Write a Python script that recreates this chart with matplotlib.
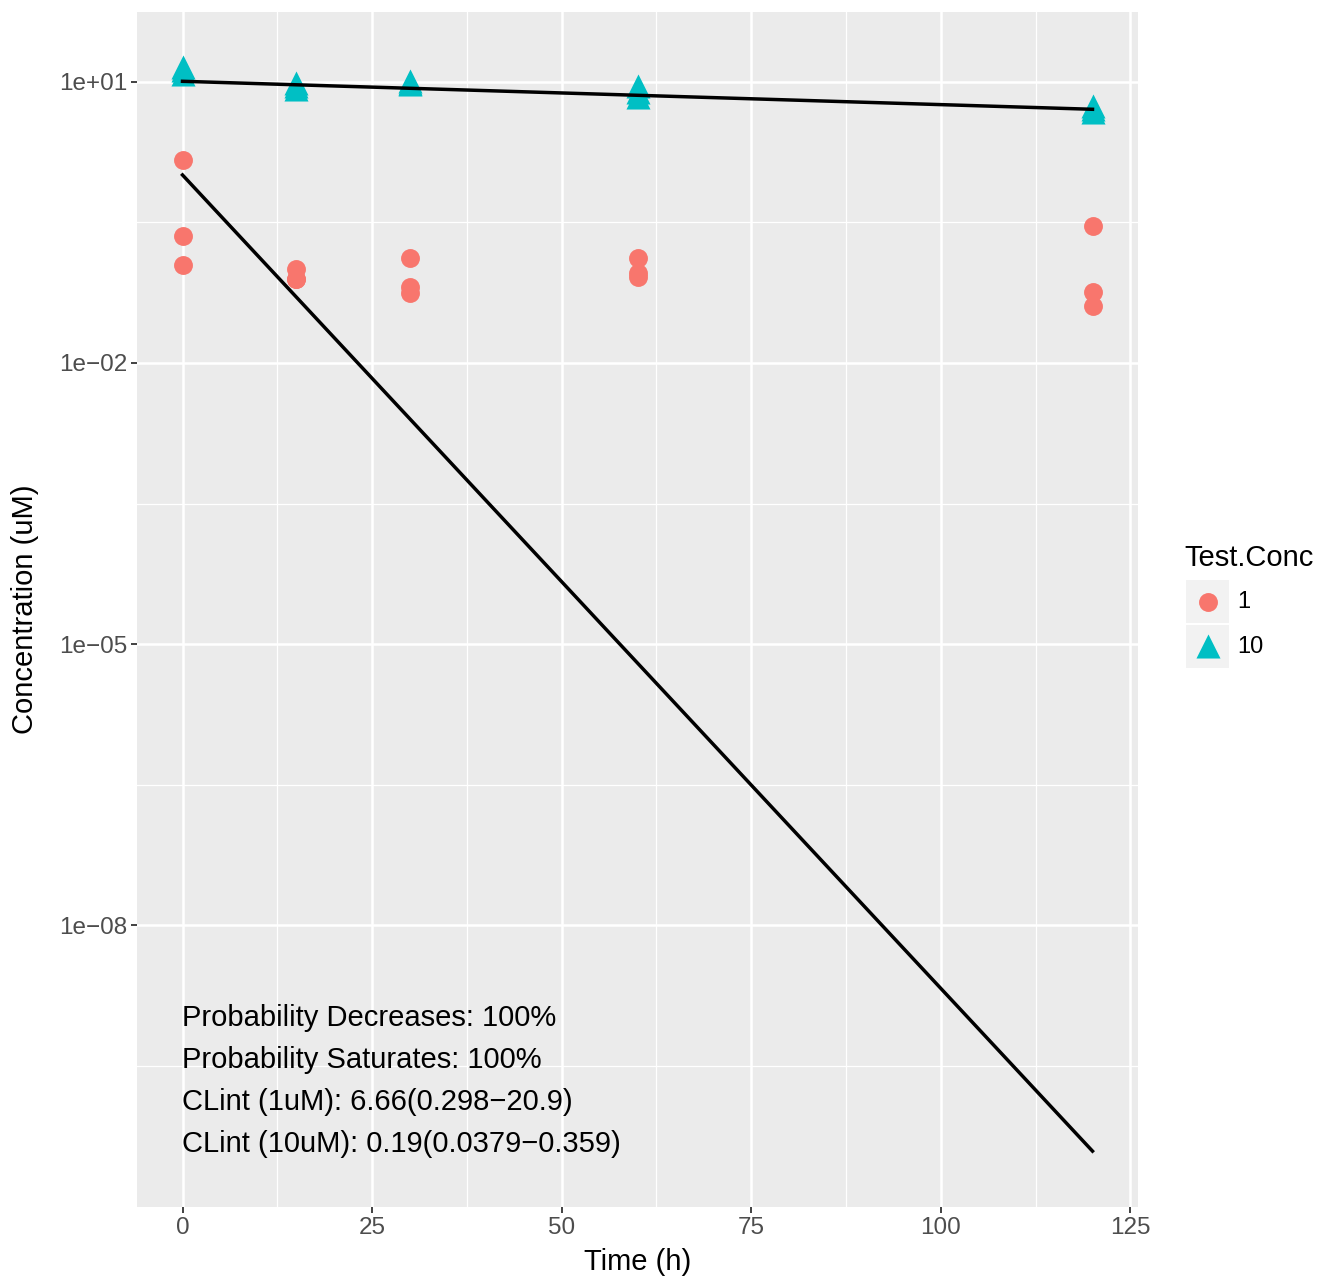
import numpy as np
import matplotlib
matplotlib.use("Agg")
import matplotlib.pyplot as plt
from matplotlib.patches import Rectangle
from matplotlib.ticker import FixedLocator, FixedFormatter

plt.rcParams['font.family'] = ['Liberation Sans', 'DejaVu Sans']

# ---- data ----
time_1uM = [0, 0, 0, 15, 15, 15, 30, 30, 30, 60, 60, 60, 120, 120, 120]
conc_1uM = [1.48, 0.229, 0.112, 0.102, 0.079, 0.078, 0.133, 0.065, 0.056,
            0.132, 0.091, 0.083, 0.292, 0.057, 0.041]
time_10uM = [0, 0, 0, 15, 15, 15, 30, 30, 30, 60, 60, 60, 120, 120, 120]
conc_10uM = [14.5, 13.4, 12.2, 9.75, 9.1, 8.4, 10.25, 9.75, 9.5,
             8.95, 7.8, 6.97, 5.55, 5.15, 4.82]
fit_time = [0, 120]
fit_1uM = [1.017, 3.86e-11]
fit_10uM = [10.17, 5.11]

x_ticks = [0, 25, 50, 75, 100, 125]
x_labels = ['0', '25', '50', '75', '100', '125']
y_ticks = [1e1, 1e-2, 1e-5, 1e-8]
y_labels = ['1e+01', '1e\u221202', '1e\u221205', '1e\u221208']
legend_title = 'Test.Conc'
legend_labels = ['1', '10']
annotations = ['Probability Decreases: 100%',
               'Probability Saturates: 100%',
               'CLint (1uM): 6.66(0.298\u221220.9)',
               'CLint (10uM): 0.19(0.0379\u22120.359)']

RED = '#F8766D'
TEAL = '#00BFC4'

W, H = 1318, 1279
fig = plt.figure(figsize=(W / 100, H / 100), dpi=100)
ax = fig.add_axes([137 / W, 1 - 1207 / H, (1138 - 137) / W, (1207 - 12) / H])
ax.set_facecolor('#EBEBEB')
for s in ax.spines.values():
    s.set_visible(False)

ax.set_yscale('log')
ax.set_xlim(-6, 126)
ax.set_ylim(10 ** -11.01, 10 ** 1.747)

ax.xaxis.set_major_locator(FixedLocator(x_ticks))
ax.xaxis.set_major_formatter(FixedFormatter(x_labels))
ax.xaxis.set_minor_locator(FixedLocator([12.5, 37.5, 62.5, 87.5, 112.5]))
ax.yaxis.set_major_locator(FixedLocator(y_ticks))
ax.yaxis.set_major_formatter(FixedFormatter(y_labels))
ax.yaxis.set_minor_locator(FixedLocator([10 ** -0.5, 10 ** -3.5, 10 ** -6.5, 10 ** -9.5]))
ax.yaxis.set_minor_formatter(FixedFormatter([]))

ax.grid(which='major', color='white', linewidth=1.8)
ax.grid(which='minor', color='white', linewidth=0.9)
ax.set_axisbelow(True)
ax.tick_params(which='major', length=4, width=1.3, color='#333333',
               labelcolor='#4D4D4D', labelsize=17.5, pad=3)
ax.tick_params(which='minor', length=0)

ax.plot(fit_time, fit_1uM, color='black', linewidth=2.5, zorder=3)
ax.plot(fit_time, fit_10uM, color='black', linewidth=2.5, zorder=3)
ax.scatter(time_1uM, conc_1uM, s=185, color=RED, marker='o', linewidths=0, zorder=2)
ax.scatter(time_10uM, conc_10uM, s=300, color=TEAL, marker='^', linewidths=0, zorder=2)

ax.set_xlabel('Time (h)', fontsize=21)
ax.set_ylabel('Concentration (uM)', fontsize=21)
ax.xaxis.label.set_va('center')
ax.yaxis.label.set_va('center')
ax.xaxis.set_label_coords(0.5, (1207 - 1262) / 1195)
ax.yaxis.set_label_coords((25 - 137) / 1001, 0.5)

# annotations (y in log-scale positions)
ann_y = [10 ** -8.99, 10 ** -9.44, 10 ** -9.89, 10 ** -10.34]
for txt, yy in zip(annotations, ann_y):
    ax.text(0, yy, txt, fontsize=21, ha='left', va='center', color='black')

# ---- legend ----
lax = fig.add_axes([0, 0, 1, 1], facecolor='none')
lax.set_xlim(0, W)
lax.set_ylim(H, 0)
lax.axis('off')
lax.text(1184, 558, legend_title, fontsize=21, ha='left', va='center')
key_y = [602, 647]
for i, (lab, yy) in enumerate(zip(legend_labels, key_y)):
    lax.add_patch(Rectangle((1186, yy - 22), 43, 43, facecolor='#F2F2F2', edgecolor='none'))
    lax.text(1237, yy, lab, fontsize=17, ha='left', va='center')
lax.scatter([1207.5], [key_y[0]], s=185, color=RED, marker='o', linewidths=0)
lax.scatter([1207.5], [key_y[1] - 1], s=300, color=TEAL, marker='^', linewidths=0)

fig.savefig('out.png', dpi=100)
